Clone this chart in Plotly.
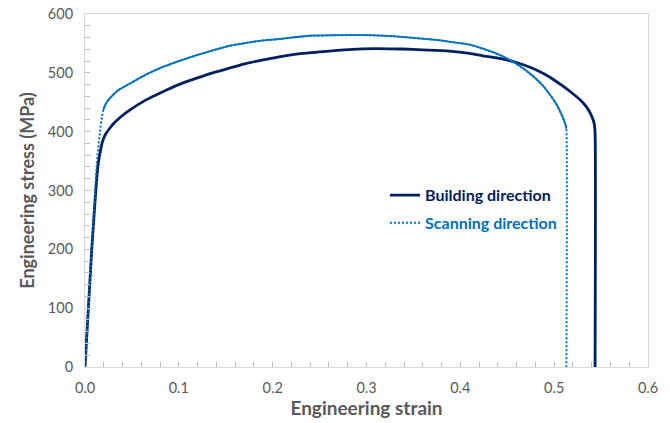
import plotly.graph_objects as go

building_strain = [0, 0.007, 0.014, 0.017, 0.019, 0.022, 0.026, 0.030, 0.038, 0.048, 0.065, 0.083,
                   0.10, 0.119, 0.136, 0.154, 0.172, 0.190, 0.207, 0.232, 0.26, 0.285, 0.31, 0.338,
                   0.36, 0.388, 0.41, 0.424, 0.44, 0.459, 0.475, 0.487, 0.498, 0.508, 0.518, 0.527,
                   0.534, 0.539, 0.5425, 0.5436, 0.5436]
building_stress = [0, 195, 345, 372, 385, 396, 405, 413, 425, 437, 454, 468,
                   480, 491, 500, 508, 516, 522, 527, 533, 537, 540, 541, 540.5,
                   539, 537, 533, 529, 525, 518, 509, 500, 490, 479, 467, 455,
                   443, 430, 415, 398, 0]

scanning_strain = [0, 0.007, 0.013, 0.016, 0.018, 0.0195, 0.022, 0.0266, 0.035, 0.048, 0.065, 0.083,
                   0.10, 0.119, 0.136, 0.154, 0.172, 0.19, 0.207, 0.239, 0.27, 0.303, 0.338, 0.374,
                   0.388, 0.41, 0.424, 0.438, 0.449, 0.463, 0.477, 0.487, 0.495, 0.503, 0.509,
                   0.512, 0.513, 0.513]
scanning_stress = [0, 195, 355, 400, 425, 437, 447, 457, 470, 482, 497, 510,
                   520, 530, 538, 546, 551, 555, 557.5, 563, 564, 564, 561, 556,
                   553, 548, 541, 533, 525, 512, 495, 480, 464, 445, 425,
                   412, 405, 0]

x_ticks = [0.0, 0.1, 0.2, 0.3, 0.4, 0.5, 0.6]
y_ticks = [0, 100, 200, 300, 400, 500, 600]

DARK = "#002060"
BLUE = "#0070C0"
GRAY = "#595959"
FONT = "Lato, Open Sans, sans-serif"

# plastic (densely sampled, looks solid) part of the scanning curve
p0, p1 = 5, len(scanning_strain) - 1

fig = go.Figure()
fig.add_trace(go.Scatter(
    x=building_strain, y=building_stress, mode="lines", legendgroup="b",
    name="<b><span style='color:%s'>Building direction</span></b>" % DARK,
    line=dict(color=DARK, width=2.8, shape="spline", smoothing=0.5)))
fig.add_trace(go.Scatter(
    x=scanning_strain, y=scanning_stress, mode="lines", legendgroup="s",
    name="<b><span style='color:%s'>Scanning direction</span></b>" % BLUE,
    line=dict(color=BLUE, width=2, dash="2px,2px", shape="spline", smoothing=0.5)))
fig.add_trace(go.Scatter(
    x=scanning_strain[p0:p1], y=scanning_stress[p0:p1], mode="lines", legendgroup="s",
    showlegend=False, hoverinfo="skip",
    line=dict(color=BLUE, width=1.8, shape="spline", smoothing=0.5)))

axis_common = dict(
    showgrid=False, zeroline=False, showline=True, linecolor="#d9d9d9", linewidth=1,
    mirror=True, ticks="inside", ticklen=5, tickcolor="#bfbfbf", automargin=False,
    tickfont=dict(family=FONT, size=14.5, color=GRAY),
)

fig.update_layout(
    width=670, height=423,
    margin=dict(l=85, r=22, t=14, b=56),
    paper_bgcolor="white", plot_bgcolor="white",
    font=dict(family=FONT, color=GRAY),
    xaxis=dict(range=[0, 0.6], tickvals=x_ticks, tickformat=".1f", ticklabelstandoff=8,
               minor=dict(dtick=0.02, ticks="inside", ticklen=5, tickcolor="#bfbfbf"),
               title=dict(text="<b>Engineering strain</b>", font=dict(size=19, color=GRAY), standoff=6),
               **axis_common),
    yaxis=dict(range=[0, 600], tickvals=y_ticks, ticklabelstandoff=8,
               minor=dict(dtick=20, ticks="inside", ticklen=5, tickcolor="#bfbfbf"),
               title=dict(text="<b>Engineering stress (MPa)</b>", font=dict(size=18, color=GRAY), standoff=8),
               **axis_common),
    legend=dict(x=0.533, y=0.535, xanchor="left", yanchor="top",
                bgcolor="rgba(0,0,0,0)", font=dict(size=16, family=FONT),
                itemwidth=30, tracegroupgap=4),
    showlegend=True,
)

fig.write_html("out.html", config={"displayModeBar": False},
               post_script="document.body.style.margin='0px';")
